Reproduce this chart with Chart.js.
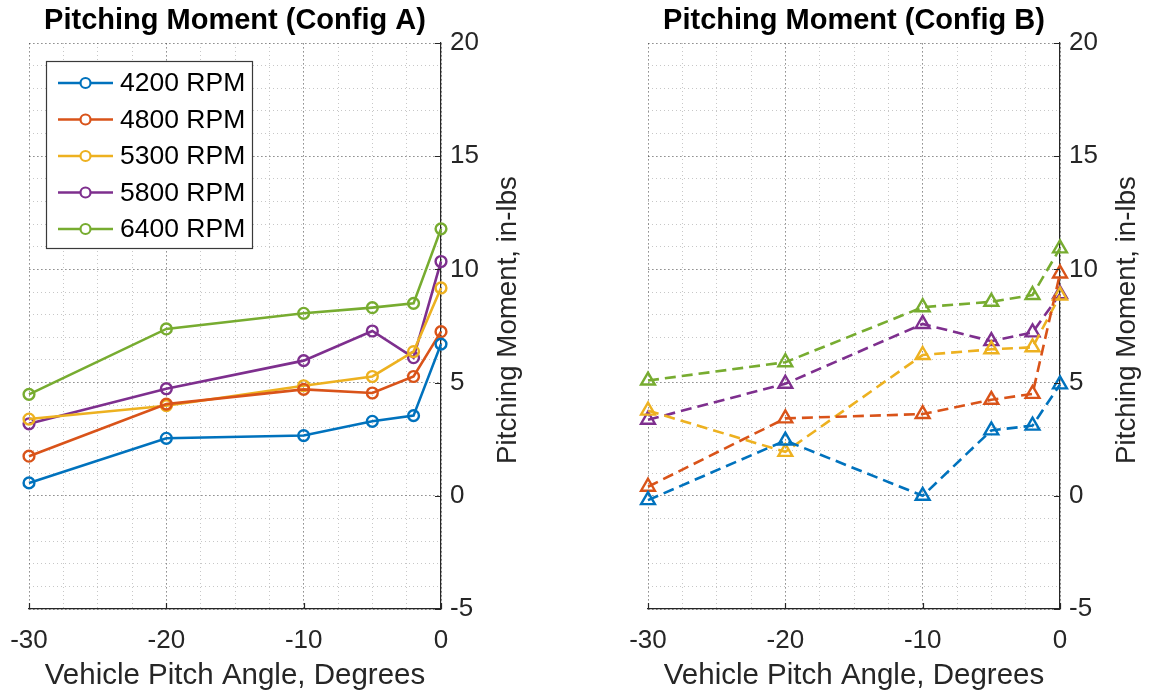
<!DOCTYPE html>
<html>
<head>
<meta charset="utf-8">
<script src="https://cdn.jsdelivr.net/npm/chart.js@4.4.0/dist/chart.umd.min.js"></script>
<style>
  html, body { margin: 0; padding: 0; background: #fff; }
  #wrap { position: relative; width: 1150px; height: 693px; overflow: hidden; }
  .panel { position: absolute; top: 0; width: 575px; height: 693px; }
</style>
</head>
<body>
<div id="wrap">
  <div class="panel" style="left:0"><canvas id="cfgA" width="575" height="693"></canvas></div>
  <div class="panel" style="left:575px"><canvas id="cfgB" width="575" height="693"></canvas></div>
</div>
<script>
// Vehicle pitch angles (degrees) at which the moment was measured
const pitchAngles = [-30, -20, -10, -5, -2, 0];
const rpmLabels = ['4200 RPM', '4800 RPM', '5300 RPM', '5800 RPM', '6400 RPM'];
const rpmColors = ['#0072BD', '#D95319', '#EDB120', '#7E2F8E', '#77AC30'];

// Pitching moment, in-lbs — Config A
const configA4200 = [0.57, 2.54, 2.66, 3.29, 3.54, 6.70];
const configA4800 = [1.75, 4.05, 4.70, 4.54, 5.27, 7.25];
const configA5300 = [3.39, 3.98, 4.86, 5.27, 6.37, 9.18];
const configA5800 = [3.18, 4.73, 5.97, 7.28, 6.10, 10.35];
const configA6400 = [4.48, 7.37, 8.06, 8.31, 8.50, 11.79];

// Pitching moment, in-lbs — Config B
const configB4200 = [-0.19, 2.44, 0.00, 2.89, 3.10, 4.92];
const configB4800 = [0.40, 3.42, 3.61, 4.24, 4.50, 9.82];
const configB5300 = [3.76, 1.94, 6.22, 6.47, 6.56, 8.85];
const configB5800 = [3.36, 4.95, 7.59, 6.83, 7.22, 8.91];
const configB6400 = [5.09, 5.90, 8.33, 8.57, 8.87, 10.93];

// Axis ticks
const xTicks = [-30, -20, -10, 0];
const yTicks = [-5, 0, 5, 10, 15, 20];

const FONT = "'Liberation Sans', Arial, Helvetica, sans-serif";
const AXIS_COLOR = '#262626';
Chart.defaults.font.family = FONT;

function toPoints(vals) {
  return pitchAngles.map((x, i) => ({ x: x, y: vals[i] }));
}

function buildDatasets(seriesList, dashed) {
  return seriesList.map((vals, i) => ({
    label: rpmLabels[i],
    data: toPoints(vals),
    borderColor: rpmColors[i],
    backgroundColor: 'rgba(0,0,0,0)',
    borderWidth: 2.6,
    borderDash: dashed ? [11, 6] : [],
    pointStyle: dashed ? 'triangle' : 'circle',
    pointRadius: dashed ? 8 : 5.4,
    pointBorderWidth: 2.4,
    pointBorderColor: rpmColors[i],
    pointBackgroundColor: 'rgba(0,0,0,0)',
    tension: 0,
    clip: false
  }));
}

// Titles, rotated y-axis title, inward tick marks and the boxed legend
const panelDecor = {
  id: 'panelDecor',
  afterDraw(chart, args, opts) {
    const ctx = chart.ctx;
    const area = chart.chartArea;
    const xs = chart.scales.x;
    const ys = chart.scales.y;
    ctx.save();

    // inward tick marks on bottom and right axes
    ctx.strokeStyle = AXIS_COLOR;
    ctx.lineWidth = 1.2;
    ctx.beginPath();
    xTicks.forEach(v => {
      const px = Math.round(xs.getPixelForValue(v)) + 0.5;
      ctx.moveTo(px, area.bottom);
      ctx.lineTo(px, area.bottom - 6);
    });
    yTicks.forEach(v => {
      const py = Math.round(ys.getPixelForValue(v)) + 0.5;
      ctx.moveTo(area.right, py);
      ctx.lineTo(area.right - 6, py);
    });
    ctx.stroke();

    // panel title
    ctx.fillStyle = '#000';
    ctx.font = 'bold 29px ' + FONT;
    ctx.textAlign = 'center';
    ctx.textBaseline = 'middle';
    ctx.fillText(opts.title, (area.left + area.right) / 2, 21);

    // y-axis title, reading bottom to top
    ctx.save();
    ctx.translate(area.right + 67, (area.top + area.bottom) / 2 - 6);
    ctx.rotate(-Math.PI / 2);
    ctx.fillStyle = AXIS_COLOR;
    ctx.font = '27.7px ' + FONT;
    ctx.fillText(opts.yTitle, 0, 0);
    ctx.restore();

    // legend box
    if (opts.legend) {
      const bx = area.left + 17, by = area.top + 18, bw = 206, bh = 187;
      ctx.fillStyle = '#fff';
      ctx.fillRect(bx, by, bw, bh);
      ctx.strokeStyle = '#3a3a3a';
      ctx.lineWidth = 1.2;
      ctx.strokeRect(bx + 0.5, by + 0.5, bw, bh);
      ctx.font = '26.5px ' + FONT;
      ctx.textAlign = 'left';
      ctx.textBaseline = 'middle';
      chart.data.datasets.forEach((ds, i) => {
        const ry = by + 22 + i * 36.5;
        ctx.strokeStyle = ds.borderColor;
        ctx.lineWidth = 2.6;
        ctx.beginPath();
        ctx.moveTo(bx + 12, ry);
        ctx.lineTo(bx + 67, ry);
        ctx.stroke();
        ctx.lineWidth = 2.2;
        ctx.beginPath();
        ctx.arc(bx + 39.5, ry, 5, 0, Math.PI * 2);
        ctx.fillStyle = '#fff';
        ctx.fill();
        ctx.stroke();
        ctx.fillStyle = '#000';
        ctx.fillText(ds.label, bx + 74, ry + 1);
      });
    }
    ctx.restore();
  }
};

function makeChart(canvasId, datasets, title, leftPad, yWidth, showLegend) {
  return new Chart(document.getElementById(canvasId), {
    type: 'line',
    data: { datasets: datasets },
    plugins: [panelDecor],
    options: {
      responsive: false,
      animation: false,
      devicePixelRatio: 1,
      events: [],
      layout: { padding: { left: leftPad, top: 43, right: 0, bottom: 0 } },
      plugins: {
        legend: { display: false },
        title: { display: false },
        tooltip: { enabled: false },
        panelDecor: { title: title, yTitle: 'Pitching Moment, in-lbs', legend: showLegend }
      },
      scales: {
        xMinor: {
          type: 'linear', position: 'bottom', min: -30, max: 0,
          ticks: { stepSize: 2.5, display: false },
          grid: { color: 'rgba(40,40,40,0.26)', lineWidth: 1, drawTicks: false },
          border: { display: false, dash: [1, 3] },
          afterFit(s) { s.height = 0; s.paddingLeft = 0; s.paddingRight = 0; }
        },
        yMinor: {
          type: 'linear', position: 'right', min: -5, max: 20,
          ticks: { stepSize: 1, display: false },
          grid: { color: 'rgba(40,40,40,0.26)', lineWidth: 1, drawTicks: false },
          border: { display: false, dash: [1, 3] },
          afterFit(s) { s.width = 0; s.paddingTop = 0; s.paddingBottom = 0; }
        },
        x: {
          type: 'linear', position: 'bottom', min: -30, max: 0,
          afterBuildTicks(s) { s.ticks = xTicks.map(v => ({ value: v })); },
          ticks: { font: { size: 26 }, color: AXIS_COLOR, padding: 16, maxRotation: 0 },
          grid: { color: 'rgba(40,40,40,0.33)', lineWidth: 1, drawTicks: false },
          border: { display: true, color: AXIS_COLOR, width: 1.2, dash: [2, 2] },
          title: {
            display: true, text: 'Vehicle Pitch Angle, Degrees',
            font: { size: 29.5, lineHeight: 1 }, color: AXIS_COLOR, padding: { top: 0, bottom: 2 }
          },
          afterFit(s) { s.height = 84; s.paddingLeft = 0; s.paddingRight = 0; }
        },
        y: {
          type: 'linear', position: 'right', min: -5, max: 20,
          afterBuildTicks(s) { s.ticks = yTicks.map(v => ({ value: v })); },
          ticks: { font: { size: 26 }, color: AXIS_COLOR, padding: 9 },
          grid: { color: 'rgba(40,40,40,0.33)', lineWidth: 1, drawTicks: false },
          border: { display: true, color: AXIS_COLOR, width: 1.2, dash: [2, 2] },
          afterFit(s) { s.width = yWidth; s.paddingTop = 0; s.paddingBottom = 0; }
        }
      }
    }
  });
}

makeChart('cfgA',
  buildDatasets([configA4200, configA4800, configA5300, configA5800, configA6400], false),
  'Pitching Moment (Config A)', 29, 134, true);

makeChart('cfgB',
  buildDatasets([configB4200, configB4800, configB5300, configB5800, configB6400], true),
  'Pitching Moment (Config B)', 73, 90, false);
</script>
</body>
</html>
